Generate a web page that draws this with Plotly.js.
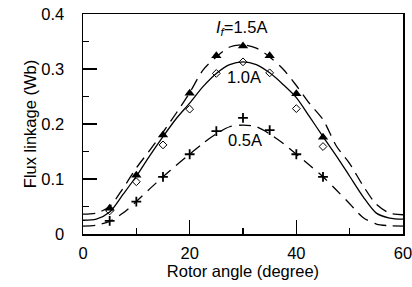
<!DOCTYPE html>
<html>
<head>
<meta charset="utf-8">
<script src="https://cdn.plot.ly/plotly-3.0.1.min.js"></script>
<style>html,body{margin:0;padding:0;background:#fff;}#chart{width:412px;height:287px;}</style>
</head>
<body>
<div id="chart"></div>
<script>
// Curve sample angles (degree)
const curveAngle = [0,2.5,5,7.5,10,12.5,15,17.5,20,22.5,25,27.5,30,32.5,35,37.5,40,42.5,45,47.5,50,52.5,55,57.5,60];
// Fitted curves (Wb)
const curve15 = [0.036,0.038,0.050,0.083,0.120,0.152,0.185,0.220,0.257,0.298,0.322,0.340,0.344,0.338,0.322,0.300,0.270,0.237,0.208,0.160,0.128,0.088,0.054,0.038,0.035];
const curve10 = [0.025,0.027,0.040,0.072,0.105,0.142,0.177,0.210,0.238,0.268,0.292,0.308,0.313,0.308,0.293,0.272,0.248,0.213,0.177,0.142,0.105,0.068,0.038,0.029,0.027];
const curve05 = [0.0145,0.016,0.023,0.038,0.059,0.082,0.104,0.125,0.145,0.165,0.182,0.195,0.198,0.195,0.182,0.165,0.145,0.125,0.104,0.080,0.055,0.030,0.018,0.015,0.0145];
// Measured points
const pointAngle = [5,10,15,20,25,30,35,40,45];
const meas15 = [0.047,0.107,0.180,0.256,0.324,0.342,0.324,0.255,0.176];
const meas10 = [0.042,0.095,0.162,0.227,0.292,0.313,0.293,0.228,0.159];
const meas05 = [0.024,0.059,0.104,0.145,0.187,0.211,0.189,0.145,0.104];
// Labels
const labels = ['<i>I</i><sub><i>f</i></sub>=1.5A','1.0A','0.5A'];
const labelX = [29.8,30.1,30.3];
const labelY = [0.375,0.285,0.171];

const F = 'Liberation Sans, Arial, sans-serif';
const lineStyle = {color:'#000', width:1.3, shape:'spline', smoothing:0.8};

const traces = [
  {x:curveAngle, y:curve15, mode:'lines', line:Object.assign({}, lineStyle, {dash:'12px,7px'}), hoverinfo:'skip'},
  {x:curveAngle, y:curve10, mode:'lines', line:Object.assign({}, lineStyle), hoverinfo:'skip'},
  {x:curveAngle, y:curve05, mode:'lines', line:Object.assign({}, lineStyle, {dash:'12px,7px'}), hoverinfo:'skip'},
  {x:pointAngle, y:meas15, mode:'markers', marker:{symbol:'triangle-up', size:9, color:'#000'}},
  {x:pointAngle, y:meas10, mode:'markers', marker:{symbol:'diamond-open', size:6, color:'#000', line:{width:1, color:'#000'}}},
  {x:pointAngle, y:meas05, mode:'markers', marker:{symbol:'cross-thin-open', size:7, color:'#000', line:{width:1.8, color:'#000'}}}
];

const annotations = labels.map((t,i)=>({x:labelX[i], y:labelY[i], xref:'x', yref:'y', text:t, showarrow:false, font:{family:F, size:16.5, color:'#000'}}));

const layout = {
  width:412, height:287,
  margin:{l:83, r:9, t:14, b:53},
  paper_bgcolor:'#fff', plot_bgcolor:'#fff',
  showlegend:false,
  font:{family:F, size:16.5, color:'#000'},
  xaxis:{range:[0,60], dtick:20, tick0:0, ticks:'inside', ticklen:14, tickwidth:1.3, tickcolor:'#000',
    showline:true, linecolor:'#000', linewidth:1.5, mirror:true, showgrid:false, zeroline:false,
    minor:{dtick:10, ticks:'inside', ticklen:6, tickwidth:1.3, tickcolor:'#000', showgrid:false},
    tickfont:{family:F, size:16.5, color:'#000'}, ticklabelstandoff:4, ticklabeloverflow:'allow',
    title:{text:'Rotor angle (degree)', font:{family:F, size:16.5, color:'#000'}, standoff:3}},
  yaxis:{range:[0,0.4], dtick:0.1, tick0:0, ticks:'inside', ticklen:14, tickwidth:1.3, tickcolor:'#000',
    showline:true, linecolor:'#000', linewidth:1.5, mirror:true, showgrid:false, zeroline:false,
    minor:{dtick:0.05, ticks:'inside', ticklen:6, tickwidth:1.3, tickcolor:'#000', showgrid:false},
    tickfont:{family:F, size:16.5, color:'#000'}, ticklabelstandoff:14, ticklabeloverflow:'allow',
    tickformat:'.1~f',
    title:{text:'Flux linkage (Wb)', font:{family:F, size:16.5, color:'#000'}, standoff:0}},
  annotations:annotations
};

Plotly.newPlot('chart', traces, layout, {staticPlot:true, displayModeBar:false});
</script>
</body>
</html>
